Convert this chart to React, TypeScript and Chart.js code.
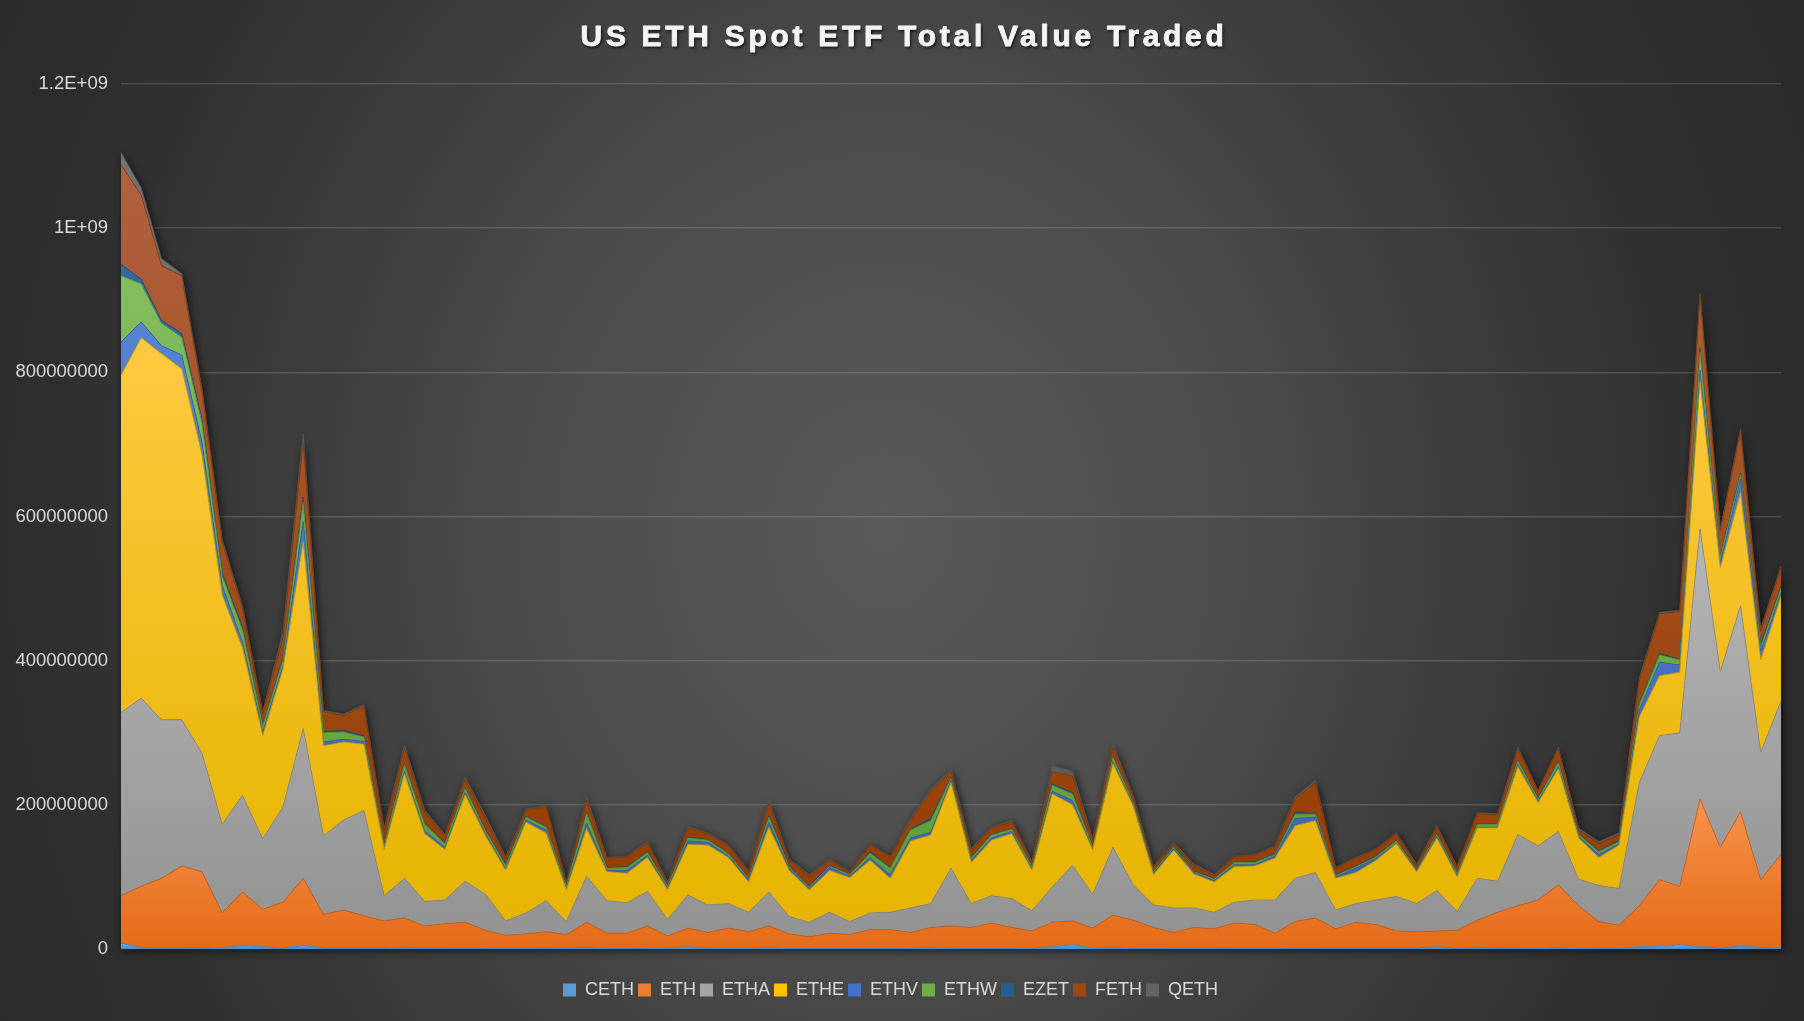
import React, { useEffect, useRef } from 'react';
import { Chart, registerables } from 'chart.js';

Chart.register(...registerables);

// ---------- DATA (USD millions per trading day) ----------
const TRADING_DAYS = [
  '2024-07-23', '2024-07-24', '2024-07-25', '2024-07-26', '2024-07-29', '2024-07-30', '2024-07-31',
  '2024-08-01', '2024-08-02', '2024-08-05', '2024-08-06', '2024-08-07', '2024-08-08', '2024-08-09',
  '2024-08-12', '2024-08-13', '2024-08-14', '2024-08-15', '2024-08-16', '2024-08-19', '2024-08-20',
  '2024-08-21', '2024-08-22', '2024-08-23', '2024-08-26', '2024-08-27', '2024-08-28', '2024-08-29',
  '2024-08-30', '2024-09-03', '2024-09-04', '2024-09-05', '2024-09-06', '2024-09-09', '2024-09-10',
  '2024-09-11', '2024-09-12', '2024-09-13', '2024-09-16', '2024-09-17', '2024-09-18', '2024-09-19',
  '2024-09-20', '2024-09-23', '2024-09-24', '2024-09-25', '2024-09-26', '2024-09-27', '2024-09-30',
  '2024-10-01', '2024-10-02', '2024-10-03', '2024-10-04', '2024-10-07', '2024-10-08', '2024-10-09',
  '2024-10-10', '2024-10-11', '2024-10-14', '2024-10-15', '2024-10-16', '2024-10-17', '2024-10-18',
  '2024-10-21', '2024-10-22', '2024-10-23', '2024-10-24', '2024-10-25', '2024-10-28', '2024-10-29',
  '2024-10-30', '2024-10-31', '2024-11-01', '2024-11-04', '2024-11-05', '2024-11-06', '2024-11-07',
  '2024-11-08', '2024-11-11', '2024-11-12', '2024-11-13', '2024-11-14', '2024-11-15',
];

const CETH = [
  8, 2, 2, 2, 2, 1, 5, 3, 1, 5,
  1, 1, 1, 1, 2, 1, 1, 1, 1, 1,
  1, 1, 1, 2, 1, 1, 1, 1, 3, 1,
  1, 1, 2, 1, 1, 1, 1, 1, 1, 1,
  2, 1, 1, 1, 1, 1, 3, 6, 1, 2,
  1, 1, 1, 1, 1, 1, 1, 1, 1, 1,
  1, 1, 1, 1, 1, 3, 1, 2, 1, 1,
  1, 2, 1, 1, 1, 3, 4, 6, 3, 1,
  4, 2, 1,
];
const ETH = [
  66, 85, 96, 113, 105, 49, 74, 52, 64, 93,
  47, 53, 45, 38, 41, 31, 34, 36, 25, 18,
  20, 23, 19, 35, 21, 21, 31, 17, 26, 22,
  28, 23, 30, 20, 16, 21, 19, 26, 26, 22,
  28, 31, 29, 35, 29, 24, 34, 33, 28, 45,
  39, 29, 22, 29, 27, 35, 33, 21, 37, 42,
  27, 36, 33, 24, 23, 22, 25, 38, 50, 59,
  67, 87, 59, 37, 32, 57, 92, 81, 205, 140,
  186, 94, 130,
];
const ETHA = [
  254, 261, 220, 203, 165, 123, 134, 98, 132, 208,
  109, 125, 146, 35, 55, 34, 33, 57, 50, 20,
  29, 43, 18, 64, 45, 42, 48, 23, 46, 38,
  34, 27, 47, 24, 20, 29, 18, 23, 24, 34,
  33, 80, 33, 38, 40, 28, 49, 77, 47, 94,
  49, 31, 34, 27, 23, 29, 34, 46, 60, 63,
  26, 26, 34, 48, 39, 56, 26, 58, 43, 99,
  75, 74, 37, 50, 51, 171, 200, 213, 375, 244,
  286, 177, 213,
];
const ETHE = [
  468, 500, 508, 487, 414, 318, 205, 143, 191, 259,
  125, 108, 92, 64, 145, 94, 70, 120, 81, 70,
  126, 94, 44, 66, 40, 41, 47, 41, 70, 83,
  64, 42, 90, 64, 45, 58, 61, 73, 47, 93,
  95, 119, 57, 77, 90, 56, 129, 84, 61, 116,
  109, 42, 80, 47, 42, 49, 47, 58, 73, 72,
  44, 43, 55, 73, 44, 73, 48, 70, 74, 94,
  60, 87, 57, 39, 60, 91, 83, 84, 204, 144,
  157, 128, 145,
];
const ETHV = [
  46, 22, 11, 19, 17, 13, 8, 5, 5, 29,
  5, 4, 4, 2, 4, 4, 3, 3, 3, 2,
  3, 4, 2, 8, 2, 4, 3, 2, 5, 4,
  2, 3, 7, 3, 2, 4, 2, 4, 5, 4,
  4, 3, 3, 3, 3, 2, 4, 6, 1, 3,
  2, 2, 2, 2, 2, 3, 2, 3, 10, 5,
  2, 6, 3, 1, 2, 2, 2, 1, 1, 3,
  2, 3, 2, 4, 2, 10, 19, 10, 16, 7,
  19, 12, 6,
];
const ETHW = [
  92, 53, 31, 25, 27, 13, 17, 8, 8, 26,
  13, 10, 6, 4, 9, 9, 5, 6, 4, 5,
  4, 4, 3, 13, 3, 4, 4, 3, 4, 3,
  3, 2, 7, 2, 2, 2, 2, 6, 9, 11,
  16, 3, 3, 4, 3, 3, 8, 9, 3, 6,
  3, 2, 2, 1, 2, 3, 3, 2, 6, 4,
  2, 2, 2, 3, 1, 3, 3, 4, 4, 5,
  3, 6, 3, 4, 3, 7, 10, 7, 25, 7,
  6, 6, 6,
];
const EZET = [
  16, 6, 4, 5, 5, 4, 4, 2, 3, 7,
  2, 2, 2, 2, 2, 1, 1, 1, 1, 2,
  1, 1, 1, 2, 1, 1, 1, 1, 1, 1,
  0.5, 1, 2, 1, 1, 1, 0.5, 2, 1, 1,
  3, 1, 0.5, 1, 0.5, 1, 2, 2, 1, 1,
  1, 1, 1, 1, 0.5, 0.5, 1, 1, 3, 1,
  1, 1, 1, 1, 1, 1, 1, 1, 1, 1,
  1, 2, 1, 1, 2, 2, 2, 1, 6, 2,
  2, 4, 2,
];
const FETH = [
  138, 117, 76, 80, 39, 44, 26, 15, 28, 77,
  27, 21, 41, 18, 21, 16, 10, 11, 17, 7,
  8, 28, 4, 16, 13, 14, 12, 4, 13, 8,
  11, 8, 17, 8, 14, 7, 3, 9, 15, 12,
  38, 8, 11, 9, 10, 6, 17, 23, 9, 13,
  7, 6, 4, 8, 4, 7, 9, 10, 18, 43,
  9, 11, 9, 9, 5, 9, 8, 14, 12, 16,
  10, 17, 6, 10, 8, 31, 55, 66, 72, 35,
  58, 18, 26,
];
const QETH = [
  17, 10, 10, 3, 4, 3, 3, 3, 8, 11,
  2, 2, 2, 4, 4, 3, 2, 3, 4, 3,
  2, 1, 1, 5, 1, 1, 2, 1, 2, 1,
  1, 2, 4, 2, 2, 2, 1, 1, 1, 3,
  3, 3, 2, 1, 2, 1, 8, 7, 2, 4,
  2, 1, 2, 2, 2, 1, 1, 1, 3, 3,
  1, 1, 1, 1, 2, 2, 1, 1, 2, 2,
  1, 2, 2, 3, 2, 4, 2, 2, 3, 3,
  3, 4, 2,
];

const SERIES_NAMES = ['CETH', 'ETH', 'ETHA', 'ETHE', 'ETHV', 'ETHW', 'EZET', 'FETH', 'QETH'];
const SERIES_VALUES = [CETH, ETH, ETHA, ETHE, ETHV, ETHW, EZET, FETH, QETH];
const UNIT = 1e6;

const Y_TICK_VALUES = [0, 200000000, 400000000, 600000000, 800000000, 1000000000, 1200000000];
const Y_TICK_LABELS = ['0', '200000000', '400000000', '600000000', '800000000', '1E+09', '1.2E+09'];

const TITLE = 'US ETH Spot ETF Total Value Traded';

// ---------- STYLE ----------
const PALETTE = [
  { base: '#5B9BD5', light: '#74afe3', dark: '#4a8bc9', line: '#4a86bf' },
  { base: '#ED7D31', light: '#f7924c', dark: '#e46b18', line: '#c8621f' },
  { base: '#A5A5A5', light: '#b6b6b6', dark: '#939393', line: '#8a8a8a' },
  { base: '#FFC000', light: '#ffca42', dark: '#e6b400', line: '#c9a000' },
  { base: '#4472C4', light: '#5683d4', dark: '#3b65b4', line: '#365fa8' },
  { base: '#70AD47', light: '#84bd5e', dark: '#5f9e36', line: '#5a9236' },
  { base: '#255E91', light: '#2f6aa0', dark: '#1f5080', line: '#1d4a74' },
  { base: '#9E480E', light: '#b0613f', dark: '#963d00', line: '#7e3a0d' },
  { base: '#636363', light: '#747474', dark: '#575757', line: '#555555' },
];

function seriesBounds(k: number) {
  let top = 0;
  let bottom = Infinity;
  for (let i = 0; i < TRADING_DAYS.length; i++) {
    let below = 0;
    for (let j = 0; j < k; j++) below += SERIES_VALUES[j][i];
    top = Math.max(top, below + SERIES_VALUES[k][i]);
    bottom = Math.min(bottom, below);
  }
  return { top: top * UNIT, bottom: bottom * UNIT };
}

function fillFor(k: number) {
  return (ctx: any) => {
    const chart = ctx.chart;
    const y = chart.scales && chart.scales.y;
    if (!chart.chartArea || !y) return PALETTE[k].base;
    const b = seriesBounds(k);
    const y0 = y.getPixelForValue(b.top);
    let y1 = y.getPixelForValue(b.bottom);
    if (Math.abs(y1 - y0) < 2) y1 = y0 + 2;
    const g = chart.ctx.createLinearGradient(0, y0, 0, y1);
    g.addColorStop(0, PALETTE[k].light);
    g.addColorStop(1, PALETTE[k].dark);
    return g;
  };
}

const FONT = '"Liberation Sans", Arial, Helvetica, sans-serif';

const stackShadowPlugin = {
  id: 'stackShadow',
  beforeDatasetsDraw(chart: any) {
    const n = chart.data.datasets.length;
    const meta = chart.getDatasetMeta(n - 1);
    const pts = meta.data;
    if (!pts || !pts.length) return;
    const base = chart.scales.y.getPixelForValue(0);
    const ctx = chart.ctx;
    ctx.save();
    ctx.beginPath();
    ctx.moveTo(pts[0].x, base);
    for (const p of pts) ctx.lineTo(p.x, p.y);
    ctx.lineTo(pts[pts.length - 1].x, base);
    ctx.closePath();
    ctx.shadowColor = 'rgba(0,0,0,0.65)';
    ctx.shadowBlur = 8;
    ctx.shadowOffsetX = 2;
    ctx.shadowOffsetY = 2;
    ctx.fillStyle = '#2b2b2b';
    ctx.fill();
    ctx.restore();
  },
};

const titlePlugin = {
  id: 'spacedTitle',
  afterDraw(chart: any) {
    const ctx = chart.ctx;
    ctx.save();
    ctx.font = `bold 30px ${FONT}`;
    (ctx as any).letterSpacing = '3.7px';
    ctx.textAlign = 'center';
    ctx.textBaseline = 'alphabetic';
    ctx.shadowColor = 'rgba(0,0,0,0.75)';
    ctx.shadowBlur = 3;
    ctx.shadowOffsetX = 1.5;
    ctx.shadowOffsetY = 2;
    ctx.fillStyle = '#f4f4f4';
    ctx.fillText(TITLE, 904, 46);
    ctx.shadowColor = 'transparent';
    ctx.strokeStyle = '#f4f4f4';
    ctx.lineWidth = 0.9;
    ctx.lineJoin = 'round';
    ctx.strokeText(TITLE, 904, 46);
    ctx.restore();
  },
};

export default function App() {
  const canvasRef = useRef<HTMLCanvasElement | null>(null);

  useEffect(() => {
    const canvas = canvasRef.current;
    if (!canvas) return;

    const datasets = SERIES_NAMES.map((name, k) => ({
      label: name,
      data: SERIES_VALUES[k].map((v) => v * UNIT),
      fill: k === 0 ? 'origin' : '-1',
      backgroundColor: fillFor(k),
      borderColor: PALETTE[k].line,
      borderWidth: 0.8,
      pointRadius: 0,
      pointHoverRadius: 0,
      tension: 0,
    }));

    const chart = new Chart(canvas, {
      type: 'line',
      data: { labels: TRADING_DAYS, datasets: datasets as any },
      options: {
        animation: false,
        responsive: false,
        devicePixelRatio: 1,
        layout: { padding: { top: 84, right: 23, bottom: 12, left: 0 } },
        plugins: {
          title: { display: false },
          tooltip: { enabled: false },
          legend: {
            display: true,
            position: 'bottom',
            align: 'center',
            labels: {
              boxWidth: 13,
              boxHeight: 13,
              padding: 4,
              color: '#dadada',
              font: { family: FONT, size: 18 },
              generateLabels: (ch: any) => {
                const items = (Chart.defaults.plugins.legend.labels as any).generateLabels(ch);
                return items.map((it: any, k: number) => ({
                  ...it,
                  fillStyle: PALETTE[k].base,
                  strokeStyle: PALETTE[k].base,
                  lineWidth: 0,
                  fontColor: '#dadada',
                }));
              },
            },
          },
        },
        scales: {
          x: {
            display: true,
            offset: false,
            grid: { display: false },
            border: { display: false },
            ticks: { display: false },
            afterFit: (s: any) => {
              s.height = 28;
            },
          },
          y: {
            stacked: true,
            min: 0,
            max: 1200000000,
            afterFit: (s: any) => {
              s.width = 121;
            },
            afterBuildTicks: (s: any) => {
              s.ticks = Y_TICK_VALUES.map((v) => ({ value: v }));
            },
            grid: {
              color: 'rgba(255,255,255,0.14)',
              lineWidth: 1.5,
              drawTicks: false,
            },
            border: { display: false },
            ticks: {
              padding: 13,
              color: '#d9d9d9',
              font: { family: FONT, size: 18.5 },
              callback: (value: any) => {
                const idx = Y_TICK_VALUES.indexOf(Number(value));
                return idx >= 0 ? Y_TICK_LABELS[idx] : '';
              },
            },
          },
        },
      },
      plugins: [stackShadowPlugin, titlePlugin],
    });

    return () => {
      chart.destroy();
    };
  }, []);

  return (
    <div
      style={{
        position: 'fixed',
        left: 0,
        top: 0,
        width: 1804,
        height: 1021,
        overflow: 'hidden',
        background:
          'radial-gradient(ellipse 1000px 1150px at 49% 52%, #595959 0%, #4c4c4c 35%, #3c3c3c 60%, #2e2e2e 85%, #2a2a2a 100%)',
      }}
    >
      <canvas ref={canvasRef} width={1804} height={1021} style={{ display: 'block', width: 1804, height: 1021 }} />
    </div>
  );
}
